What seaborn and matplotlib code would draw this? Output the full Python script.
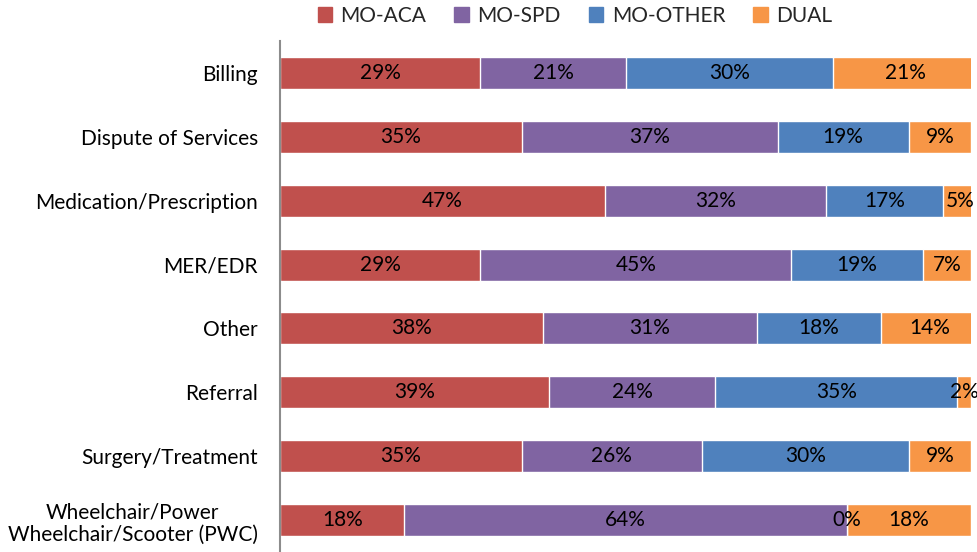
import matplotlib
matplotlib.use("Agg")
import matplotlib.pyplot as plt
import seaborn as sns
import pandas as pd
import numpy as np

categories = [
    "Billing",
    "Dispute of Services",
    "Medication/Prescription",
    "MER/EDR",
    "Other",
    "Referral",
    "Surgery/Treatment",
    "Wheelchair/Power\nWheelchair/Scooter (PWC)",
]
series_names = ["MO-ACA", "MO-SPD", "MO-OTHER", "DUAL"]
mo_aca = [29, 35, 47, 29, 38, 39, 35, 18]
mo_spd = [21, 37, 32, 45, 31, 24, 26, 64]
mo_other = [30, 19, 17, 19, 18, 35, 30, 0]
dual = [21, 9, 5, 7, 14, 2, 9, 18]
colors = ["#C0504D", "#8064A2", "#4F81BD", "#F79646"]

sns.set_theme(style="white")
plt.rcParams["font.family"] = ["Lato", "DejaVu Sans"]

values = np.array([mo_aca, mo_spd, mo_other, dual], dtype=float)
cum = values.cumsum(axis=0)

fig = plt.figure(figsize=(9.77, 5.52), dpi=100)
ax = fig.add_axes([280 / 977, 0.0, 691 / 977, 511 / 552])

# stacked bars: draw cumulative totals from the longest down so each layer sits on top
for i in range(len(series_names) - 1, -1, -1):
    df = pd.DataFrame({"category": categories, "total": cum[i]})
    sns.barplot(data=df, x="total", y="category", orient="h", color=colors[i],
                saturation=1, width=0.5, ax=ax, legend=False)

ax.set_xlim(0, 100)
ax.set_ylim(7.5, -0.5)
ax.set_xlabel("")
ax.set_ylabel("")
ax.set_xticks([])
ax.tick_params(axis="y", length=0, pad=16, labelsize=15, labelcolor="black")
for lab in ax.get_yticklabels():
    lab.set_multialignment("center")

for s in ["top", "right", "bottom"]:
    ax.spines[s].set_visible(False)
ax.spines["left"].set_color("#8C8C8C")
ax.spines["left"].set_linewidth(1.5)

# percentage labels centred in each segment
for i in range(len(series_names)):
    starts = cum[i] - values[i]
    for j, v in enumerate(values[i]):
        ax.text(starts[j] + v / 2, j, f"{int(v)}%", ha="center", va="center",
                fontsize=15, color="black")

handles = [plt.Rectangle((0, 0), 1, 1, color=c) for c in colors]
fig.legend(handles, series_names, loc="center", bbox_to_anchor=(575 / 977, 1 - 16 / 552),
           ncol=4, frameon=False, fontsize=15, handlelength=0.7, handleheight=0.7,
           handletextpad=0.4, columnspacing=1.35)

fig.savefig("out.png", dpi=100)
